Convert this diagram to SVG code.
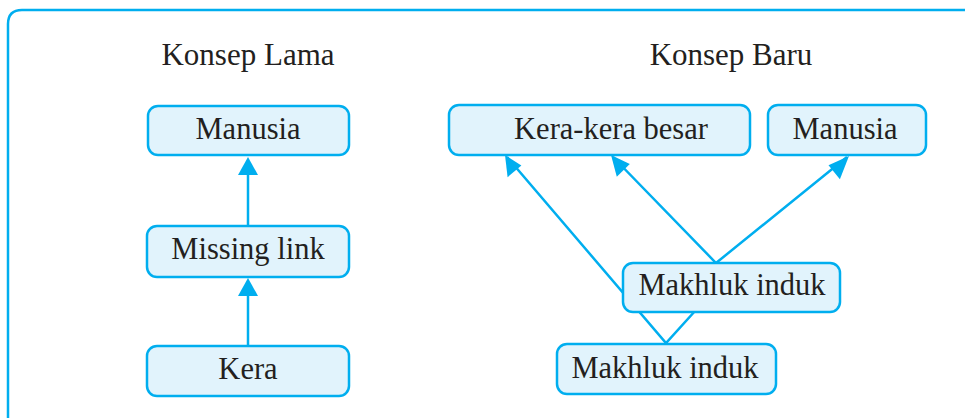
<svg xmlns="http://www.w3.org/2000/svg" width="965" height="418" viewBox="0 0 965 418">
<style>
.frame{fill:none;stroke:#00AEEF;stroke-width:2.5}
.box{fill:#E1F3FC;stroke:#00AEEF;stroke-width:2.5}
.ln{fill:none;stroke:#00AEEF;stroke-width:2.5}
.ah{fill:#00AEEF}
text{font-family:"Liberation Serif","DejaVu Serif",serif;fill:#231F20;text-anchor:middle}
.t{font-size:31px}
.n{font-size:30.5px}
</style>
<rect width="965" height="418" fill="#fff"/>
<path class="frame" d="M8 420 L8 24 Q8 10 22 10 L966 10"/>
<text class="t" x="248" y="65">Konsep Lama</text>
<text class="t" x="731" y="65">Konsep Baru</text>
<g id="connectors">
<line class="ln" x1="248" y1="226" x2="248" y2="170"/>
<polygon class="ah" points="248,157 238,175 258,175"/>
<line class="ln" x1="248" y1="346" x2="248" y2="290"/>
<polygon class="ah" points="248,278 238,296 258,296"/>
<polyline class="ln" points="507,157 666,343 705,300"/>
<polyline class="ln" points="613,157 716,263 847,157"/>
<polygon class="ah" points="505,155 507.6,177.2 521.4,165.4"/>
<polygon class="ah" points="611,155 616.8,176.7 629.8,164.0"/>
<polygon class="ah" points="849,156 828.5,165.2 839.9,179.3"/>
</g>
<g id="lama-manusia"><rect class="box" x="148" y="106" width="201" height="49" rx="10"/><text class="n" x="248" y="139">Manusia</text></g>
<g id="lama-missing"><rect class="box" x="147" y="226" width="202" height="51" rx="10"/><text class="n" x="248" y="259">Missing link</text></g>
<g id="lama-kera"><rect class="box" x="147" y="346" width="202" height="50" rx="10"/><text class="n" x="248" y="379">Kera</text></g>
<g id="baru-kera"><rect class="box" x="449" y="105" width="301" height="50" rx="10"/><text class="n" x="611" y="139">Kera-kera besar</text></g>
<g id="baru-manusia"><rect class="box" x="768" y="105" width="158" height="50" rx="10"/><text class="n" x="845" y="139">Manusia</text></g>
<g id="baru-induk1"><rect class="box" x="623" y="263" width="217" height="49" rx="10"/><text class="n" x="732" y="295">Makhluk induk</text></g>
<g id="baru-induk2"><rect class="box" x="557" y="344" width="219" height="50" rx="10"/><text class="n" x="665" y="378">Makhluk induk</text></g>
</svg>
